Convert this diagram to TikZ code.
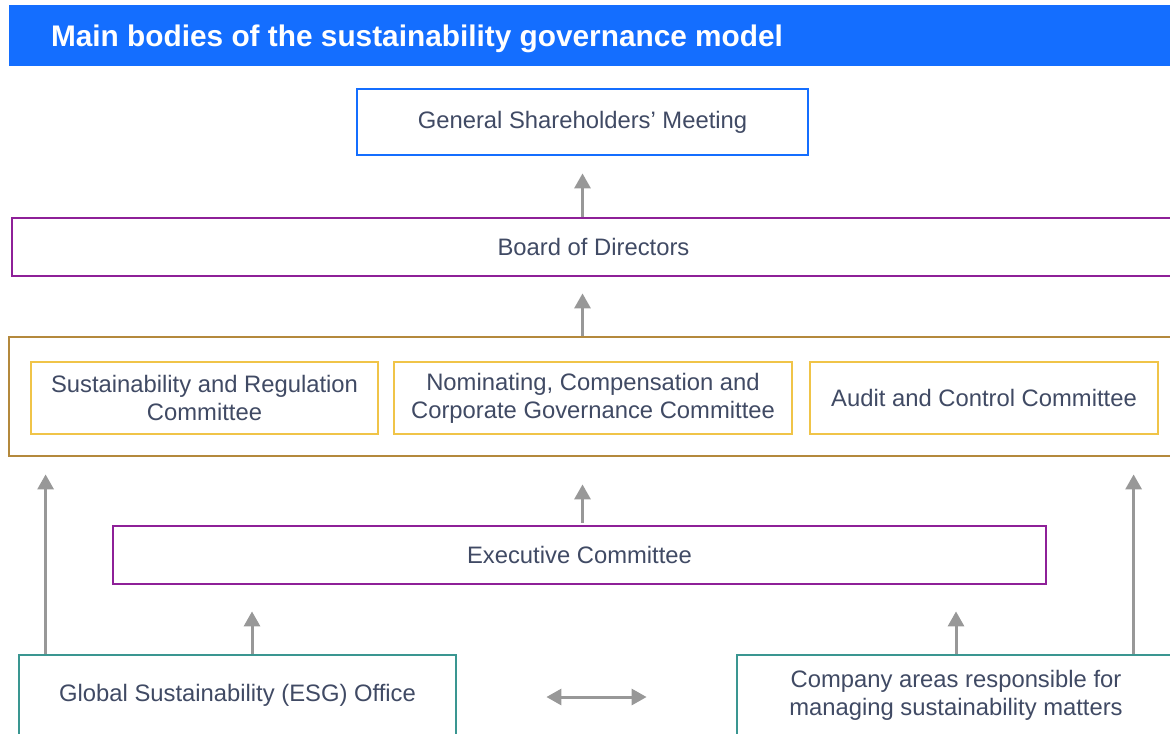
\documentclass[tikz,border=0pt]{standalone}
\usepackage{fontspec}
\setmainfont{Liberation Sans}
\usetikzlibrary{arrows.meta}
\definecolor{headblue}{RGB}{20,110,255}
\definecolor{bodypurple}{RGB}{142,32,152}
\definecolor{commgold}{RGB}{180,137,60}
\definecolor{commyellow}{RGB}{240,196,72}
\definecolor{areateal}{RGB}{58,150,145}
\definecolor{flowgray}{RGB}{152,152,152}
\definecolor{labelslate}{RGB}{64,74,100}
\tikzset{
  body/.style={draw, line width=1.4pt, fill=white, text=labelslate, align=center,
    inner sep=0pt, font=\fontsize{11.9}{14}\selectfont},
  flow/.style={draw=flowgray, line width=1.5pt, -{Triangle[width=8pt,length=7.5pt]}},
  twoway/.style={draw=flowgray, line width=1.5pt, {Triangle[width=8pt,length=7.5pt]}-{Triangle[width=8pt,length=7.5pt]}}
}
\begin{document}
\begin{tikzpicture}[x=0.5pt, y=-0.5pt]
    \clip (0,0) rectangle (1170,733);
    \useasboundingbox (0,0) rectangle (1170,733);
    
    % title bar
    \fill[headblue] (9,5) rectangle (1175,66);
    \node[anchor=west, text=white, font=\fontsize{14.9}{17}\bfseries] (title) at (44,39) {Main bodies of the sustainability governance model};
    
    % top bodies
    \node[body, draw=headblue, minimum width=225.5pt, minimum height=33pt] (gsm) at (582.5,122) {General Shareholders' Meeting};
    \node[body, draw=bodypurple, minimum width=581.5pt, minimum height=29pt] (board) at (593.5,247) {Board of Directors};
    
    % board committees
    \node[body, draw=commgold, minimum width=584pt, minimum height=59.5pt] (comm) at (593,396.5) {};
    \node[body, draw=commyellow, minimum width=173.5pt, minimum height=36pt] (src) at (204.5,398) {Sustainability and Regulation\\Committee};
    \node[body, draw=commyellow, minimum width=199pt, minimum height=36pt] (nccg) at (593,398) {Nominating, Compensation and\\Corporate Governance Committee};
    \node[body, draw=commyellow, minimum width=174pt, minimum height=36pt] (acc) at (984,398) {Audit and Control Committee};
    
    % management
    \node[body, draw=bodypurple, minimum width=466.5pt, minimum height=29pt] (exec) at (579.5,555) {Executive Committee};
    \node[body, draw=areateal, minimum width=218.5pt, minimum height=40pt] (esg) at (237.5,695) {Global Sustainability (ESG) Office};
    \node[body, draw=areateal, minimum width=219pt, minimum height=40pt] (areas) at (956,695) {Company areas responsible for\\managing sustainability matters};
    
    % arrow feet
    \coordinate (esgA) at ([xshift=14pt]esg.north west);
    \coordinate (esgB) at ([xshift=7.25pt]esg.north);
    \coordinate (areasA) at (areas.north);
    \coordinate (areasB) at ([xshift=199pt]areas.north west);
    
    % reporting lines
    \draw[flow, shorten >=8.5pt] (board.north -| gsm.south) -- (gsm.south);
    \draw[flow, shorten >=8pt] (comm.north -| gsm.south) -- (board.south -| gsm.south);
    \draw[flow, shorten <=1pt, shorten >=13.5pt] (exec.north -| gsm.south) -- (comm.south -| gsm.south);
    \draw[flow, shorten >=13pt] (esgB) -- (esgB |- exec.south);
    \draw[flow, shorten >=8.5pt] (esgA) -- (esgA |- comm.south);
    \draw[flow, shorten >=13pt] (areasA) -- (areasA |- exec.south);
    \draw[flow, shorten >=8.5pt] (areasB) -- (areasB |- comm.south);
    \draw[twoway, shorten <=44.5pt, shorten >=44.5pt] ([yshift=-1pt]esg.east) -- ([yshift=-1pt]areas.west);
\end{tikzpicture}
\end{document}
